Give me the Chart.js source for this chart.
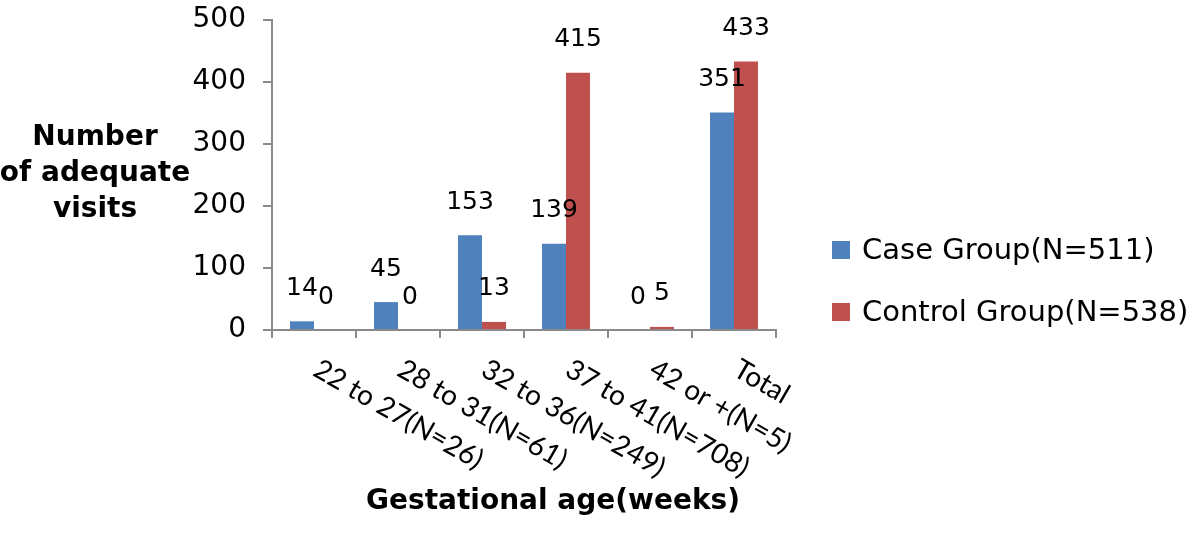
<!DOCTYPE html>
<html lang="en">
<head>
    <meta charset="UTF-8">
    <title>Adequate visits by gestational age</title>
    <script src="https://cdn.jsdelivr.net/npm/chart.js"></script>
    <style>
        body {
            margin: 0;
            background-color: white;
        }
        #chart {
            display: block;
        }
    </style>
</head>
<body>
    <canvas id="chart" width="1200" height="536"></canvas>

    <script>
        const categories = ['22 to 27(N=26)', '28 to 31(N=61)', '32 to 36(N=249)', '37 to 41(N=708)', '42 or +(N=5)', 'Total'];
        const caseGroup = [14, 45, 153, 139, 0, 351];
        const controlGroup = [0, 0, 13, 415, 5, 433];
        const yTicks = [0, 100, 200, 300, 400, 500];
        const seriesNames = ['Case Group(N=511)', 'Control Group(N=538)'];
        const yTitle = ['Number', 'of adequate', 'visits'];
        const xTitle = 'Gestational age(weeks)';

        const blue = '#4F81BD';
        const red = '#C0504D';
        const axisGrey = '#8a8a8a';
        const sans = '"DejaVu Sans", sans-serif';

        // value labels above each bar
        const valueLabels = {
            id: 'valueLabels',
            afterDatasetsDraw(chart) {
                const ctx = chart.ctx;
                ctx.save();
                ctx.font = '25px ' + sans;
                ctx.fillStyle = '#000';
                ctx.textAlign = 'center';
                ctx.textBaseline = 'middle';
                chart.data.datasets.forEach((ds, i) => {
                    chart.getDatasetMeta(i).data.forEach((bar, j) => {
                        ctx.fillText(String(ds.data[j]), bar.x, bar.y - 33);
                    });
                });
                ctx.restore();
            }
        };

        // slanted category labels, titles and legend
        const extras = {
            id: 'extras',
            afterDraw(chart) {
                const ctx = chart.ctx;
                const x = chart.scales.x;
                const area = chart.chartArea;

                ctx.save();
                ctx.fillStyle = '#000';
                ctx.font = '28px Lato, sans-serif';
                ctx.textAlign = 'left';
                ctx.textBaseline = 'middle';
                categories.forEach((c, i) => {
                    ctx.save();
                    ctx.translate(x.getPixelForValue(i) + 2, area.bottom + 37);
                    ctx.rotate(30 * Math.PI / 180);
                    ctx.fillText(c, 0, 0);
                    ctx.restore();
                });

                ctx.font = 'bold 28px ' + sans;
                ctx.textAlign = 'center';
                ctx.textBaseline = 'alphabetic';
                ctx.fillText(xTitle, 553, 509);
                yTitle.forEach((line, i) => {
                    ctx.fillText(line, 95, 145 + i * 36);
                });

                ctx.font = '29px ' + sans;
                ctx.textAlign = 'left';
                ctx.textBaseline = 'middle';
                [blue, red].forEach((col, i) => {
                    const cy = 250 + i * 62;
                    ctx.fillStyle = col;
                    ctx.fillRect(832, cy - 9, 18, 18);
                    ctx.fillStyle = '#000';
                    ctx.fillText(seriesNames[i], 862, cy + 1);
                });
                ctx.restore();
            }
        };

        new Chart(document.getElementById('chart'), {
            type: 'bar',
            data: {
                labels: categories,
                datasets: [
                    { label: seriesNames[0], data: caseGroup, backgroundColor: blue },
                    { label: seriesNames[1], data: controlGroup, backgroundColor: red }
                ]
            },
            options: {
                responsive: false,
                animation: false,
                devicePixelRatio: 1,
                categoryPercentage: 0.571,
                barPercentage: 1.0,
                layout: {
                    padding: { top: 20, right: 424, left: 0, bottom: 0 }
                },
                plugins: {
                    legend: { display: false },
                    tooltip: { enabled: false }
                },
                scales: {
                    x: {
                        grid: {
                            offset: true,
                            drawOnChartArea: false,
                            drawTicks: true,
                            tickLength: 8,
                            color: axisGrey,
                            lineWidth: 2
                        },
                        border: { display: true, color: axisGrey, width: 2 },
                        ticks: { display: false },
                        afterFit(s) { s.height = 206; }
                    },
                    y: {
                        min: 0,
                        max: 500,
                        afterBuildTicks(s) { s.ticks = yTicks.map(v => ({ value: v })); },
                        ticks: {
                            color: '#000',
                            font: { family: sans, size: 28 },
                            padding: 17
                        },
                        grid: {
                            drawOnChartArea: false,
                            tickLength: 9,
                            color: axisGrey,
                            lineWidth: 2
                        },
                        border: { display: true, color: axisGrey, width: 2 },
                        afterFit(s) {
                            s.width = 272;
                            s.paddingTop = 0;
                            s.paddingBottom = 0;
                        }
                    }
                }
            },
            plugins: [valueLabels, extras]
        });
    </script>
</body>
</html>
